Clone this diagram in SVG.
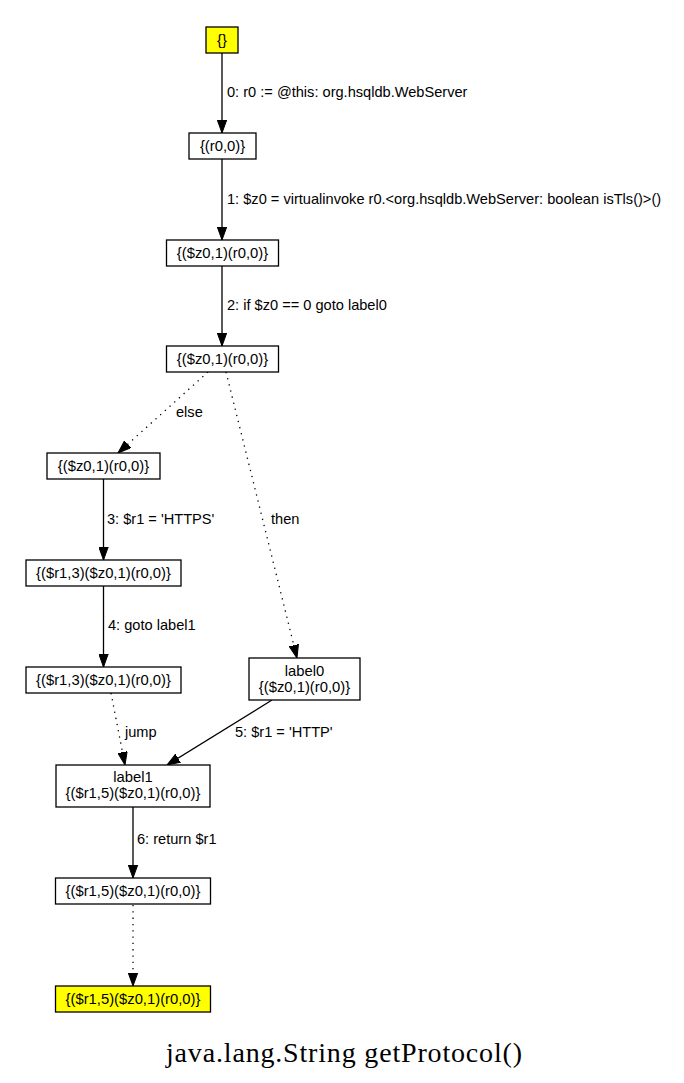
<svg xmlns="http://www.w3.org/2000/svg" width="684" height="1083" viewBox="0 0 684 1083">
  <style>
    .box { fill: #ffffff; stroke: #000000; stroke-width: 1.3; }
    .hl { fill: #ffff00; }
    .nt { font-family: "Liberation Sans", Arial, sans-serif; font-size: 14.8px; fill: #000000; text-anchor: middle; }
    .et { font-family: "Liberation Sans", Arial, sans-serif; font-size: 14.6px; fill: #000000; }
    .edge { fill: none; stroke: #000000; stroke-width: 1.3; marker-end: url(#arrow); }
    .dot { stroke-dasharray: 1.3 5; }
    .title { font-family: "Liberation Serif", "Times New Roman", serif; font-size: 28px; fill: #000000; text-anchor: middle; }
  </style>
  <defs>
    <marker id="arrow" markerUnits="userSpaceOnUse" markerWidth="14" markerHeight="10" refX="13" refY="5" orient="auto">
      <path d="M0,0.3 L13,5 L0,9.7 z" fill="#000000" stroke="#000000" stroke-width="1"/>
    </marker>
  </defs>
  <rect width="684" height="1083" fill="#ffffff"/>

  <g id="connectors">
    <path class="edge" d="M222,53 L222,133"/>
    <path class="edge" d="M222,159 L222,240"/>
    <path class="edge" d="M222,266 L222,346"/>
    <path class="edge dot" d="M208,372 L118,453"/>
    <path class="edge dot" d="M226,372 L297,658"/>
    <path class="edge" d="M103.5,479 L103.5,560"/>
    <path class="edge" d="M103.5,586 L103.5,667"/>
    <path class="edge dot" d="M111,693 L125,765"/>
    <path class="edge" d="M272,700 L167,765"/>
    <path class="edge" d="M133,807 L133,878"/>
    <path class="edge dot" d="M133,905 L133,986"/>

    <text class="et" x="227" y="97">0: r0 := @this: org.hsqldb.WebServer</text>
    <text class="et" x="227" y="204">1: $z0 = virtualinvoke r0.&lt;org.hsqldb.WebServer: boolean isTls()&gt;()</text>
    <text class="et" x="227" y="310">2: if $z0 == 0 goto label0</text>
    <text class="et" x="176" y="417">else</text>
    <text class="et" x="107" y="524">3: $r1 = 'HTTPS'</text>
    <text class="et" x="271" y="524">then</text>
    <text class="et" x="108" y="630">4: goto label1</text>
    <text class="et" x="125" y="737">jump</text>
    <text class="et" x="235" y="737">5: $r1 = 'HTTP'</text>
    <text class="et" x="137" y="844">6: return $r1</text>
  </g>

  <g id="n0">
    <rect class="box hl" x="206" y="27" width="32" height="26"/>
    <text class="nt" x="222" y="45">{}</text>
  </g>
  <g id="n1">
    <rect class="box" x="189" y="133" width="67" height="26"/>
    <text class="nt" x="222.5" y="151">{(r0,0)}</text>
  </g>
  <g id="n2">
    <rect class="box" x="166.5" y="240" width="112" height="26"/>
    <text class="nt" x="222.5" y="258">{($z0,1)(r0,0)}</text>
  </g>
  <g id="n3">
    <rect class="box" x="166.5" y="346" width="112" height="26"/>
    <text class="nt" x="222.5" y="364">{($z0,1)(r0,0)}</text>
  </g>
  <g id="n4">
    <rect class="box" x="47" y="453" width="113" height="26"/>
    <text class="nt" x="103.5" y="471">{($z0,1)(r0,0)}</text>
  </g>
  <g id="n5">
    <rect class="box" x="26" y="560" width="155" height="26"/>
    <text class="nt" x="103.5" y="578">{($r1,3)($z0,1)(r0,0)}</text>
  </g>
  <g id="n6">
    <rect class="box" x="26" y="667" width="155" height="26"/>
    <text class="nt" x="103.5" y="685">{($r1,3)($z0,1)(r0,0)}</text>
  </g>
  <g id="label0">
    <rect class="box" x="249" y="658" width="111" height="42"/>
    <text class="nt" x="304.5" y="676">label0</text>
    <text class="nt" x="304.5" y="692">{($z0,1)(r0,0)}</text>
  </g>
  <g id="label1">
    <rect class="box" x="56" y="765" width="154" height="42"/>
    <text class="nt" x="133" y="782">label1</text>
    <text class="nt" x="133" y="798">{($r1,5)($z0,1)(r0,0)}</text>
  </g>
  <g id="n7">
    <rect class="box" x="55.5" y="878" width="155" height="26"/>
    <text class="nt" x="133" y="896">{($r1,5)($z0,1)(r0,0)}</text>
  </g>
  <g id="n8">
    <rect class="box hl" x="55.5" y="986" width="155" height="26"/>
    <text class="nt" x="133" y="1004">{($r1,5)($z0,1)(r0,0)}</text>
  </g>

  <text class="title" x="344" y="1062" textLength="356" lengthAdjust="spacing">java.lang.String getProtocol()</text>
</svg>
